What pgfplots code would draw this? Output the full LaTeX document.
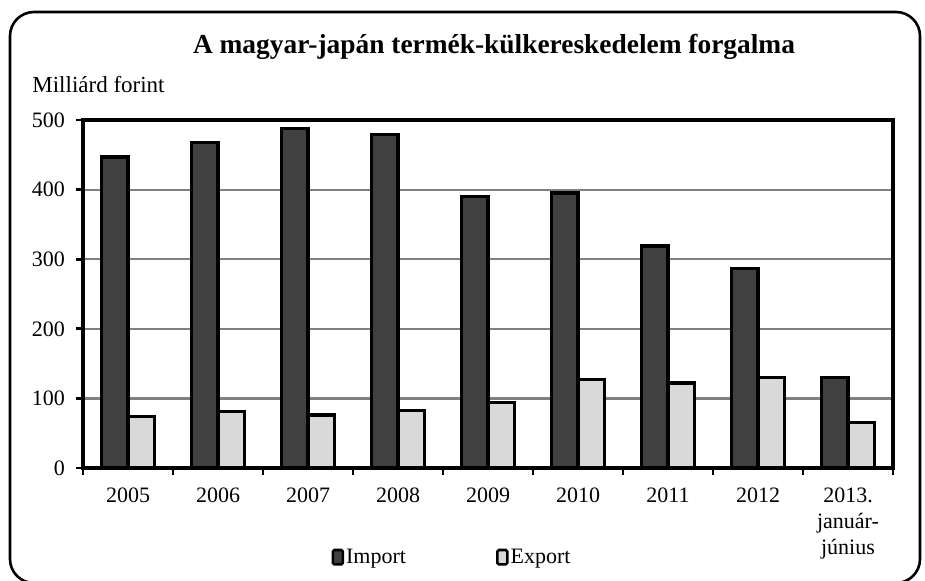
\documentclass[border=0pt]{standalone}
\usepackage{fontspec}
\setmainfont{Liberation Serif}
\usepackage{pgfplots}
\pgfplotsset{compat=1.18}
\definecolor{imp}{HTML}{404040}
\definecolor{exp}{HTML}{D9D9D9}
\definecolor{gridc}{HTML}{808080}
\begin{document}
\begin{tikzpicture}
\useasboundingbox (-41.5pt,-56pt) rectangle (421pt,234pt);
\draw[line width=1.3pt, rounded corners=12pt] (-36.5pt,-57.5pt) rectangle (418.5pt,228pt);
\begin{axis}[
  at={(0,0)}, anchor=south west,
  scale only axis, width=405pt, height=174pt,
  ybar=0pt, bar width=13.25pt,
  xmin=-0.5, xmax=8.5, ymin=0, ymax=500,
  ytick={0,100,...,500},
  yticklabels={0,100,200,300,400,500},
  xtick={-0.5,0.5,...,8.5},
  x tick label as interval,
  xticklabels={2005,2006,2007,2008,2009,2010,2011,2012,{2013.\\január-\\június}},
  xticklabel style={align=center, font=\fontsize{11}{13}\selectfont, yshift=-3pt},
  yticklabel style={font=\fontsize{11}{13}\selectfont, xshift=-2pt},
  tick align=outside, tick pos=left,
  major tick length=3.5pt,
  tick style={black, line width=1.4pt},
  axis line style={black, line width=1.8pt},
  ymajorgrids, grid style={gridc, line width=1.1pt},
  legend columns=2,
  legend style={at={(0.4556,-0.2586)}, anchor=center, draw=none, fill=none,
    font=\fontsize{11}{13}\selectfont,
    /tikz/every even column/.append style={column sep=44pt},
    nodes={inner sep=1pt}},
  legend image code/.code={\draw[#1, line width=1.3pt, rounded corners=0.8pt] (0pt,-3.2pt) rectangle (5pt,4pt);},
]
\addplot[fill=imp, draw=black, line width=1.7pt] coordinates {(0,447) (1,468) (2,488) (3,479) (4,390) (5,395) (6,319) (7,287) (8,130)};
\addplot[fill=exp, draw=black, line width=1.7pt] coordinates {(0,74) (1,81) (2,76) (3,83) (4,94) (5,127) (6,122) (7,130) (8,65)};
\legend{Import, Export}
\end{axis}
\node[anchor=base, font=\fontsize{13.7}{16}\selectfont\bfseries] at (205.5pt,207.5pt) {A magyar-japán termék-külkereskedelem forgalma};
\node[anchor=base west, inner sep=0pt, font=\fontsize{11.5}{13}\selectfont] at (-25.5pt,188pt) {Milliárd forint};
\end{tikzpicture}
\end{document}
